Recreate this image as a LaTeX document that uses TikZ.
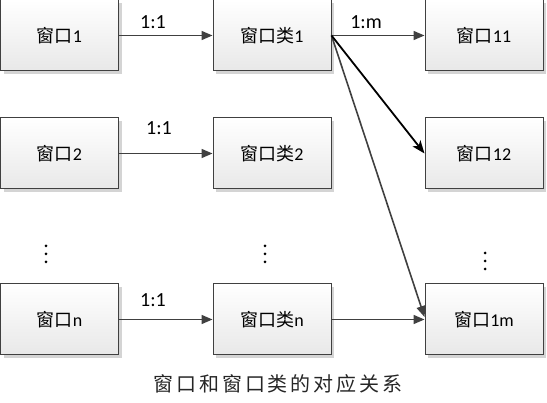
\documentclass[tikz,border=0pt]{standalone}
\usepackage{fontspec}
\setmainfont{Carlito}
\newfontfamily\cjk{Noto Sans CJK SC}
\newfontfamily\cjkcap[LetterSpace=15]{Noto Sans CJK SC}
\usetikzlibrary{arrows.meta,shadows}
\definecolor{edge}{HTML}{404040}
\definecolor{shade}{HTML}{D4D4D4}
\begin{document}
\begin{tikzpicture}[x=1pt,y=-1pt,
  box/.style={draw=edge,line width=1pt,minimum width=118pt,minimum height=71pt,
    inner sep=0pt,top color=white,bottom color=black!9,
    drop shadow={shadow xshift=3pt,shadow yshift=-3pt,fill=shade,opacity=1},
    font=\fontsize{18}{20}\selectfont},
  link/.style={draw=edge,line width=1.6pt,-{Triangle[length=11pt,width=9pt]}},
  boldlink/.style={draw=black,line width=1.8pt,-{Stealth[length=13pt,width=10pt,inset=3.5pt]}},
  lab/.style={font=\fontsize{20}{22}\selectfont,inner sep=0pt},
  vdots/.style={fill=black,circle,inner sep=0pt,minimum size=3pt}]
\useasboundingbox (0,0) rectangle (547,403);
\node[box] (w1) at (59.5,35.5) {{\cjk 窗口}1};
\node[box] (c1) at (272,35.5) {{\cjk 窗口类}1};
\node[box] (w11) at (484,35.5) {{\cjk 窗口}11};
\node[box] (w2) at (59.5,153.5) {{\cjk 窗口}2};
\node[box] (c2) at (272,153.5) {{\cjk 窗口类}2};
\node[box] (w12) at (484,153.5) {{\cjk 窗口}12};
\node[box] (wn) at (59.5,319.5) {{\cjk 窗口}n};
\node[box] (cn) at (272,319.5) {{\cjk 窗口类}n};
\node[box] (w1m) at (484,319.5) {{\cjk 窗口}1m};
\draw[link] (w1) -- (c1);
\draw[link] (w2) -- (c2);
\draw[link] (wn) -- (cn);
\draw[link] (cn) -- (w1m);
\draw[link] (c1) -- (w11);
\draw[link] (c1.east) -- ([yshift=2.5pt]w1m.west);
\draw[boldlink] (c1.east) -- (w12.west);
\node[lab] (l1) at (153,22) {1:1};
\node[lab] (l2) at (159,128) {1:1};
\node[lab] (l3) at (153,300) {1:1};
\node[lab] (lm) at (366,22) {1:m};
\foreach \x/\y [count=\i] in {46/246,265/246,485/253}{
  \node[vdots] (d\i a) at (\x,\y) {};
  \node[vdots] (d\i b) at (\x,\y+8) {};
  \node[vdots] (d\i c) at (\x,\y+16) {};
}
\node[font=\fontsize{20}{22}\selectfont\cjkcap,text=black!85] (cap) at (278,384) {窗口和窗口类的对应关系};
\end{tikzpicture}
\end{document}
